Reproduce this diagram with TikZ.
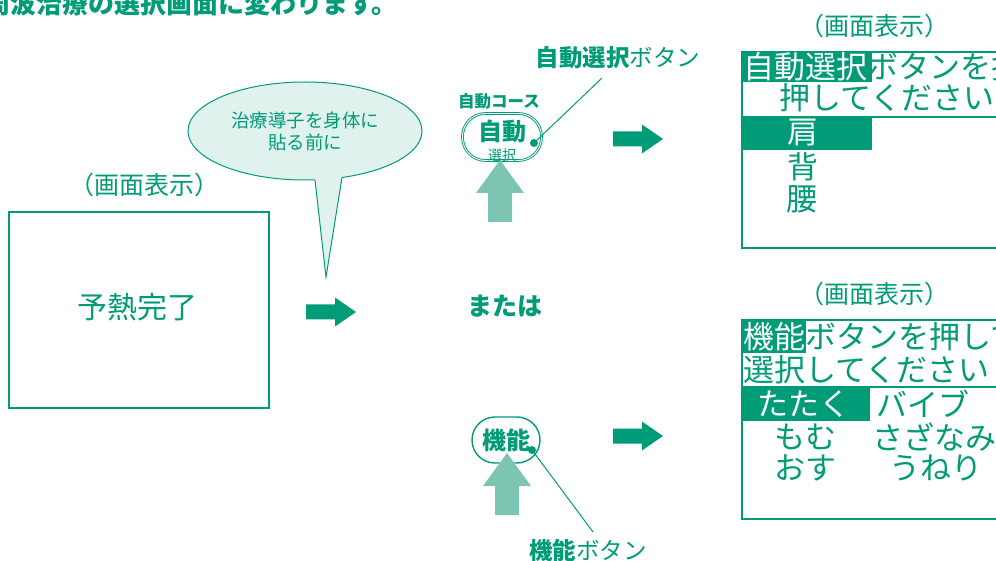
\documentclass[tikz,border=0pt]{standalone}
\usepackage{fontspec}
\setmainfont{Noto Sans CJK JP}
\usetikzlibrary{positioning,shapes.geometric,calc}
\definecolor{mgreen}{HTML}{009B77}
\definecolor{lgreen}{HTML}{7DC4B2}
\definecolor{bubblefill}{HTML}{E0F2ED}
\tikzset{
  caption/.style={font=\fontsize{25}{25}\selectfont, text=mgreen, inner sep=0pt},
  headline/.style={font=\fontsize{26}{26}\selectfont\bfseries, text=mgreen, inner sep=0pt},
  screen/.style={draw=mgreen, line width=2.8pt},
  lcdtext/.style={font=\fontsize{31}{31}\selectfont, text=mgreen, inner sep=0pt, anchor=west},
  lcdinv/.style={lcdtext, text=white},
  btnlabel/.style={font=\fontsize{23.5}{23.5}\selectfont, text=mgreen, inner sep=0pt},
  btn/.style={draw=mgreen, line width=1.4pt, rounded corners=23pt, fill=white},
  fwd/.style={fill=mgreen},
  push/.style={fill=lgreen},
  pointer/.style={draw=mgreen, line width=1pt},
}
\begin{document}
\begin{tikzpicture}[x=1pt, y=-1pt]
\useasboundingbox (0,0) rectangle (996,561);
\clip (0,0) rectangle (996,561);

% heading, cut off by the page edge
\node[headline, anchor=west] (head) at (-16,4) {周波治療の選択画面に変わります。};

% first screen
\node[caption] (cap1) at (144,185) {（画面表示）};
\node[screen, minimum width=260pt, minimum height=196pt] (scr1) at (139,310) {};
\node[font=\fontsize{30}{30}\selectfont, text=mgreen, inner sep=0pt] (warm) at (137,307) {予熱完了};

% speech bubble
\node[ellipse, draw=mgreen, line width=1pt, fill=bubblefill, minimum width=234pt, minimum height=98pt,
      align=center, font=\fontsize{18.5}{22}\selectfont, text=mgreen] (bubble) at (305,131)
      {治療導子を身体に\\貼る前に};
\coordinate (tailL) at (315,180);
\coordinate (tailR) at (342,177.5);
\coordinate (tailtip) at (326,277);
\fill[bubblefill] (313,175) -- (tailL) -- (tailtip) -- (tailR) -- (344,172) -- cycle;
\draw[mgreen, line width=1pt] (tailL) -- (tailtip) -- (tailR);

% forward arrows
\foreach \x/\y in {306/312, 613/139, 613/436}
  \fill[fwd] (\x,\y-7.5) -- (\x+29,\y-7.5) -- (\x+29,\y-14.5) -- (\x+50,\y)
             -- (\x+29,\y+14.5) -- (\x+29,\y+7.5) -- (\x,\y+7.5) -- cycle;

\node[font=\fontsize{25}{25}\selectfont\bfseries, text=mgreen, inner sep=0pt] (or) at (505,306) {または};

% auto-select button
\node[btnlabel, font=\fontsize{16.5}{16.5}\selectfont\bfseries] (course) at (499,101) {自動コース};
\node[btn, double=white, double distance=0.9pt, line width=0.9pt, minimum width=79pt, minimum height=47pt] (autobtn) at (502,137) {};
\node[font=\fontsize{24}{24}\selectfont\bfseries, text=mgreen, inner sep=0pt] (autotxt) at (502,131) {自動};
\node[font=\fontsize{14}{14}\selectfont, text=mgreen, inner sep=0pt] (autosub) at (502,155) {選択};
\fill[mgreen] (534,143) circle (4pt) coordinate (autodot);
\node[btnlabel] (autolbl) at (618,58) {\textbf{自動選択}ボタン};
\coordinate (autotip) at (602,78);
\draw[pointer] (autodot) -- (autotip);

% function button
\node[btn, minimum width=68pt, minimum height=46pt] (funcbtn) at (506,440) {};
\node[font=\fontsize{24}{24}\selectfont\bfseries, text=mgreen, inner sep=0pt] (functxt) at (506,440) {機能};
\fill[mgreen] (532,450) circle (4pt) coordinate (funcdot);
\node[btnlabel] (funclbl) at (588,550) {\textbf{機能}ボタン};
\coordinate (functip) at (593,532);
\draw[pointer] (funcdot) -- (functip);

% push arrows
\foreach \x/\y in {500/160, 507/453}
  \fill[push] (\x,\y) -- (\x+24,\y+33) -- (\x+12,\y+33) -- (\x+12,\y+62)
              -- (\x-12,\y+62) -- (\x-12,\y+33) -- (\x-24,\y+33) -- cycle;

% upper screen
\node[caption] (cap2) at (874,26) {（画面表示）};
\fill[mgreen] (742,52) rectangle (872,82);
\fill[mgreen] (742,117) rectangle (872,150);
\draw[mgreen, line width=2pt] (742,117) -- (1000,117);
\draw[screen] (742,52) rectangle (1010,248);
\node[lcdinv] (a1) at (743,67) {自動選択};
\node[lcdtext, right=0pt of a1] (a1b) {ボタンを押し};
\node[lcdtext] (a2) at (779,98) {押してください};
\node[lcdinv] (a3) at (787,133) {肩};
\node[lcdtext] (a4) at (787,167) {背};
\node[lcdtext] (a5) at (786,199) {腰};

% lower screen
\node[caption] (cap3) at (874,294) {（画面表示）};
\fill[mgreen] (742,320) rectangle (806,353);
\fill[mgreen] (742,387) rectangle (870,421);
\draw[mgreen, line width=2pt] (742,387) -- (1000,387);
\draw[screen] (742,320) rectangle (1010,519);
\node[lcdinv] (b1) at (743,337) {機能};
\node[lcdtext, right=0pt of b1] (b1b) {ボタンを押して};
\node[lcdtext] (b2) at (743,370) {選択してください};
\node[lcdinv] (b3) at (757,404) {たたく};
\node[lcdtext] (b3b) at (876,404) {バイブ};
\node[lcdtext] (b4) at (774,437) {もむ};
\node[lcdtext] (b4b) at (872,437) {さざなみ};
\node[lcdtext] (b5) at (774,468) {おす};
\node[lcdtext] (b5b) at (889,468) {うねり};
\end{tikzpicture}
\end{document}
